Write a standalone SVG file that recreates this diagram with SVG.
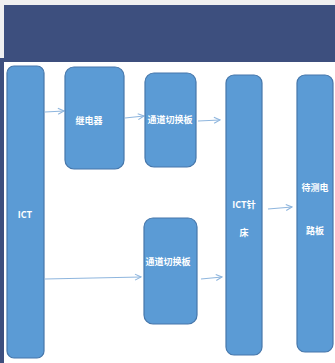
<svg xmlns="http://www.w3.org/2000/svg" width="335" height="363" viewBox="0 0 335 363">
<defs>
<style>
.node{fill:#5b9bd5;stroke:#4677ab;stroke-width:1.2}
.t{fill:#ffffff;font-family:"Noto Sans CJK SC","Noto Sans",sans-serif;font-size:9px;font-weight:bold;text-anchor:middle}
.c{fill:none;stroke:#8fb6de;stroke-width:1.2}
</style>
<marker id="ah" markerWidth="8" markerHeight="8" refX="7" refY="4" orient="auto" markerUnits="userSpaceOnUse">
<path d="M1,1 L7,4 L1,7" fill="none" stroke="#8fb6de" stroke-width="1.1"/>
</marker>
</defs>
<rect x="0" y="0" width="335" height="363" fill="#ffffff"/>
<rect x="0" y="0" width="335" height="5" fill="#f0f0f0"/>
<rect x="0" y="0" width="4" height="60" fill="#f0f0f0"/>
<rect x="4" y="5" width="331" height="57" fill="#3d4f7e"/>
<rect x="0" y="58" width="4" height="305" fill="#3d4f7e"/>
<g id="connectors">
<line class="c" x1="45" y1="112" x2="64" y2="111" marker-end="url(#ah)"/>
<line class="c" x1="125" y1="118" x2="144" y2="116" marker-end="url(#ah)"/>
<line class="c" x1="198" y1="121" x2="220" y2="120" marker-end="url(#ah)"/>
<line class="c" x1="45" y1="279" x2="141" y2="277" marker-end="url(#ah)"/>
<line class="c" x1="201" y1="279" x2="222" y2="277" marker-end="url(#ah)"/>
<line class="c" x1="268" y1="209" x2="292" y2="207" marker-end="url(#ah)"/>
</g>
<g id="ict">
<rect class="node" x="7" y="66" width="37" height="292" rx="7"/>
<text class="t" x="25" y="218" font-weight="normal">ICT</text>
</g>
<g id="relay">
<rect class="node" x="65" y="67" width="59" height="102" rx="9"/>
<text class="t" x="89" y="124">继电器</text>
</g>
<g id="switch1">
<rect class="node" x="145" y="73" width="51" height="94" rx="9"/>
<text class="t" x="170" y="123" font-size="7.5">通道切换板</text>
</g>
<g id="switch2">
<rect class="node" x="144" y="218" width="53" height="106" rx="9"/>
<text class="t" x="168" y="265" font-size="7.5">通道切换板</text>
</g>
<g id="bed">
<rect class="node" x="226" y="75" width="36" height="280" rx="8"/>
<text class="t" x="244" y="208">ICT针</text>
<text class="t" x="244" y="236">床</text>
</g>
<g id="pcb">
<rect class="node" x="297" y="75" width="36" height="277" rx="8"/>
<text class="t" x="315" y="191">待测电</text>
<text class="t" x="315" y="234">路板</text>
</g>
</svg>
